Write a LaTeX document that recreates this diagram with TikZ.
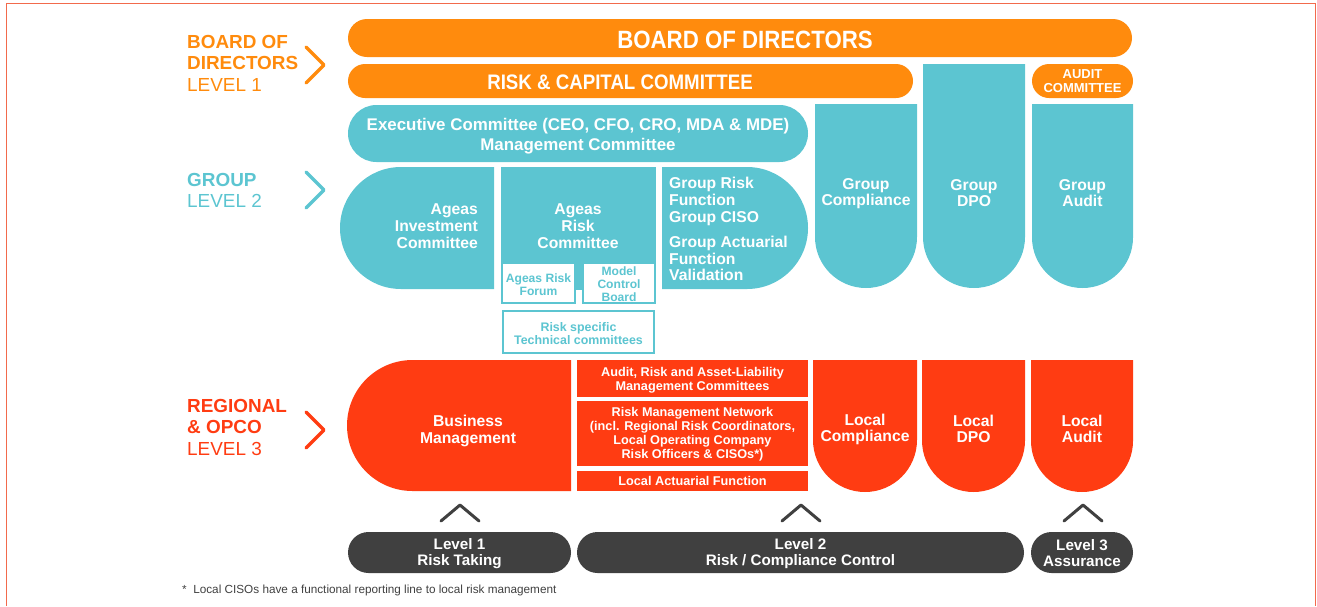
\documentclass[tikz,border=0pt]{standalone}
\usepackage{fontspec}
\setmainfont{Liberation Sans}
\newfontfamily\condfont{Liberation Sans}[FakeStretch=0.89]
\usepackage{tikz}

\definecolor{bdorange}{RGB}{255,139,13}
\definecolor{grpteal}{RGB}{92,197,209}
\definecolor{opred}{RGB}{255,60,18}
\definecolor{lvlgray}{RGB}{64,64,64}
\definecolor{framered}{RGB}{242,106,76}

\newcommand{\fs}[2]{\fontsize{#1}{#2}\selectfont}

\tikzset{
  txt/.style={text=white, font=\bfseries\fs{15.7}{16.7}, align=center, inner sep=0pt, yshift=-1.5pt},
  smalltxt/.style={txt, font=\bfseries\fs{12.7}{14}},
  subbox/.style={draw=grpteal, fill=white, line width=2pt},
  subtxt/.style={txt, text=grpteal, font=\bfseries\fs{12.1}{13}},
  lvltxt/.style={font=\fs{18.9}{21.5}, align=left, anchor=west, inner sep=0pt},
  chev/.style={line width=3.4pt, line cap=round, line join=round},
}

\begin{document}
\begin{tikzpicture}[x=1pt,y=1pt,yscale=-1]
\useasboundingbox (0,0) rectangle (1317,606);
\draw[framered, line width=1.3pt] (6.5,606) -- (6.5,3.5) -- (1315.5,3.5) -- (1315.5,606);

% level labels on the left
\node[lvltxt, text=bdorange] (lvlone) at (187,63) {\textbf{BOARD OF}\\\textbf{DIRECTORS}\\LEVEL 1};
\node[lvltxt, text=grpteal] (lvltwo) at (187,190.5) {\textbf{GROUP}\\LEVEL 2};
\node[lvltxt, text=opred] (lvlthree) at (187,427) {\textbf{REGIONAL}\\\textbf{\& OPCO}\\LEVEL 3};
\draw[chev, bdorange] (306,47) -- (324,65) -- (306,83);
\draw[chev, grpteal] (306,172) -- (324,190) -- (306,208);
\draw[chev, opred] (306,412) -- (324,430) -- (306,448);

% board level
\fill[bdorange, rounded corners=19] (348,19) rectangle (1132,57);
\node[txt, font=\condfont\bfseries\fs{25}{28}] (board) at (745,38.5) {BOARD OF DIRECTORS};
\fill[bdorange, rounded corners=17] (348,64) rectangle (913,98);
\node[txt, font=\condfont\bfseries\fs{21}{24}] (riskcap) at (620,80.5) {RISK \& CAPITAL COMMITTEE};
\fill[bdorange, rounded corners=17] (1032,64) rectangle (1133,98);
\node[txt, font=\bfseries\fs{13}{14}] (auditcom) at (1082.5,79.5) {AUDIT\\COMMITTEE};

% group level
\fill[grpteal, rounded corners=28.5] (348,105) rectangle (808,162);
\node[txt, font=\bfseries\fs{16.9}{19.5}] (exec) at (578,134.5) {Executive Committee (CEO, CFO, CRO, MDA \& MDE)\\Management Committee};

\fill[grpteal] (494,167) -- (401,167) arc[start angle=270, end angle=90, radius=61] -- (494,289) -- cycle;
\node[txt, align=right, anchor=east] (invest) at (478,224.5) {Ageas\\Investment\\Committee};

\fill[grpteal] (501,167) rectangle (656,290);
\node[txt] (riskcom) at (578,224.5) {Ageas\\Risk\\Committee};
\draw[subbox] (502,263) rectangle (575,303);
\node[subtxt] (forum) at (538.5,283) {Ageas Risk\\Forum};
\draw[subbox] (583,263) rectangle (655,303);
\node[subtxt] (mcb) at (619,282.5) {Model\\Control\\Board};
\draw[subbox] (503,311) rectangle (654,353);
\node[subtxt, font=\bfseries\fs{12.4}{13}] (techcom) at (578.5,332) {Risk specific\\Technical committees};

\fill[grpteal] (662,167) -- (747,167) arc[start angle=270, end angle=450, radius=61] -- (662,289) -- cycle;
\node[txt, align=left, anchor=west] (grprisk) at (669,200) {Group Risk\\Function\\Group CISO};
\node[txt, align=left, anchor=west] (grpact) at (669,257) {Group Actuarial\\Function\\Validation};

\fill[grpteal] (815,104) -- (917,104) -- (917,237) arc[start angle=0, end angle=180, radius=51] -- cycle;
\node[txt] (grpcomp) at (866,192) {Group\\Compliance};
\fill[grpteal] (923,64) -- (1025,64) -- (1025,237) arc[start angle=0, end angle=180, radius=51] -- cycle;
\node[txt] (grpdpo) at (974,191.5) {Group\\DPO};
\fill[grpteal] (1032,104) -- (1133,104) -- (1133,237.5) arc[start angle=0, end angle=180, radius=50.5] -- cycle;
\node[txt] (grpaudit) at (1082.5,191.5) {Group\\Audit};

% regional and opco level
\fill[opred] (571,360) -- (412.5,360) arc[start angle=270, end angle=90, radius=65.5] -- (571,491) -- cycle;
\node[txt] (busmgmt) at (468,429.5) {Business\\Management};
\fill[opred] (577,360) rectangle (808,397);
\node[smalltxt] (aralm) at (692.5,379) {Audit, Risk and Asset-Liability\\Management Committees};
\fill[opred] (577,401) rectangle (808,466);
\node[smalltxt] (rmn) at (692.5,433) {Risk Management Network\\(incl. Regional Risk Coordinators,\\Local Operating Company\\Risk Officers \& CISOs*)};
\fill[opred] (577,471) rectangle (808,491);
\node[smalltxt] (laf) at (692.5,479.5) {Local Actuarial Function};

\fill[opred] (813,360) -- (917,360) -- (917,440) arc[start angle=0, end angle=180, radius=52] -- cycle;
\node[txt] (loccomp) at (865,428) {Local\\Compliance};
\fill[opred] (922,360) -- (1025,360) -- (1025,440.5) arc[start angle=0, end angle=180, radius=51.5] -- cycle;
\node[txt] (locdpo) at (973.5,427.5) {Local\\DPO};
\fill[opred] (1031,360) -- (1133,360) -- (1133,441) arc[start angle=0, end angle=180, radius=51] -- cycle;
\node[txt] (locaudit) at (1082,427.5) {Local\\Audit};

% lines of defence
\draw[chev, lvlgray, line width=3pt] (441,521) -- (460,505) -- (479,521);
\draw[chev, lvlgray, line width=3pt] (782,521) -- (801,505) -- (820,521);
\draw[chev, lvlgray, line width=3pt] (1064,521) -- (1083,505) -- (1102,521);
\fill[lvlgray, rounded corners=20.5] (348,532) rectangle (571,573);
\node[txt, font=\bfseries\fs{15.2}{16.5}] (lodone) at (459.5,552) {Level 1\\Risk Taking};
\fill[lvlgray, rounded corners=20.5] (577,532) rectangle (1024,573);
\node[txt, font=\bfseries\fs{15.2}{16.5}] (lodtwo) at (800.5,552) {Level 2\\Risk / Compliance Control};
\fill[lvlgray, rounded corners=20.5] (1031,532) rectangle (1133,573);
\node[txt, font=\bfseries\fs{15.2}{16.5}] (lodthree) at (1082,551.5) {Level 3\\Assurance};

\node[anchor=west, inner sep=0pt, text=lvlgray, font=\fs{11.75}{13}] (note) at (182,590) {*\ \ Local CISOs have a functional reporting line to local risk management};
\end{tikzpicture}
\end{document}
